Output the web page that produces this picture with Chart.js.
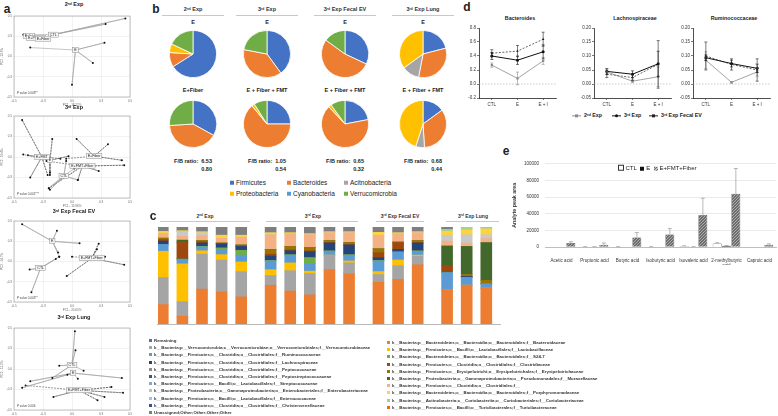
<!DOCTYPE html>
<html>
<head>
<meta charset="utf-8">
<script src="https://cdn.jsdelivr.net/npm/chart.js@4.4.0/dist/chart.umd.min.js"></script>
<style>
body { margin: 0; background: #fff; }
#fig { position: relative; width: 778px; height: 416px; overflow: hidden; font-family: "Liberation Sans", Arial, sans-serif; color: #222; }
.t { position: absolute; white-space: nowrap; line-height: 1; }
.c { transform: translate(-50%, -50%); }
.pl { font-weight: bold; font-size: 12px; }
.hl { position: absolute; height: 0; border-top: 1px solid #c8c8c8; }
sup { font-size: 0.6em; vertical-align: 0.5em; line-height: 0; }
.sq { display: inline-block; width: 4px; height: 4px; margin-right: 2px; vertical-align: 0; }
.lg { position: absolute; white-space: nowrap; font-size: 4.4px; font-weight: bold; line-height: 1; color: #333; }
.lg i { display: inline-block; width: 3px; height: 3px; margin-right: 2px; }
</style>
</head>
<body>
<div id="fig"></div>
<script>
// ---- panel a : PCoA (coordinates) ----
var a1Groups = ["CTL", "E", "E+fat", "E+Protein", "E+Fiber"];
var a1Centers = [[-0.16, 0.27], [0.03, 0.08], [-0.37, 0.25], [-0.31, 0.23], [-0.25, 0.22]];
var a1Points = [
  [[0.46, 0.47], [0.29, 0.40], [-0.40, 0.27]],
  [[0.28, 0.17], [0.18, -0.08], [0.0, -0.35], [-0.36, 0.11]],
  [[-0.42, 0.27], [-0.35, 0.24]],
  [[-0.34, 0.22], [-0.29, 0.21]],
  [[-0.28, 0.23], [-0.21, 0.21]]
];
var a2Groups = ["CTL", "E", "E+FMT", "E+Fiber", "E+FMT+Fiber"];
var a2Centers = [[-0.07, -0.23], [-0.19, -0.04], [-0.26, 0.0], [0.19, 0.01], [0.09, -0.11]];
var a2Points = [
  [[-0.19, -0.40], [-0.20, -0.38], [0.05, -0.28], [-0.05, -0.05], [0.02, -0.14]],
  [[-0.19, -0.22], [-0.19, -0.19], [-0.17, 0.22], [-0.03, 0.01], [-0.42, 0.03]],
  [[-0.43, 0.45], [-0.38, 0.02], [-0.36, -0.25], [-0.21, -0.22], [-0.10, -0.02]],
  [[0.04, 0.22], [0.31, 0.155], [0.43, -0.04], [0.25, 0.0], [-0.05, -0.02]],
  [[0.45, -0.10], [0.23, -0.17], [0.05, -0.28], [-0.20, -0.38], [-0.22, -0.05]]
];
var a3Groups = ["E", "E+FMT+Fiber", "CTL"];
var a3Centers = [[-0.17, 0.25], [0.17, 0.04], [-0.27, -0.08]];
var a3Points = [
  [[-0.43, 0.46], [-0.13, 0.38], [0.065, 0.224], [-0.12, 0.11], [-0.11, 0.06]],
  [[0.23, 0.22], [0.215, 0.15], [0.285, 0.06], [0.45, -0.04], [-0.045, -0.18], [0.0, 0.06]],
  [[-0.365, -0.10], [-0.35, -0.38], [-0.11, 0.06], [-0.14, 0.03]]
];
var a4Groups = ["CTL", "E", "E+FMT+Fiber"];
var a4Centers = [[0.0, 0.05], [0.01, -0.05], [0.06, -0.26]];
var a4Points = [
  [[0.025, 0.46], [0.03, 0.23], [-0.11, 0.04], [-0.17, -0.11], [0.10, -0.02]],
  [[0.43, -0.11], [-0.43, -0.23], [-0.36, -0.15], [-0.04, -0.07], [0.05, -0.12]],
  [[0.34, -0.22], [0.44, -0.29], [0.28, -0.34], [0.22, -0.38], [-0.16, -0.34], [-0.40, -0.20]]
];

// ---- panel b : phylum pies ----
var phyla = ["Firmicutes", "Bacteroides", "Acitnobacteria", "Proteobacteria", "Cyanobacteria", "Verrucomicrobia"];
var phylaColors = ["#4472C4", "#ED7D31", "#A5A5A5", "#FFC000", "#5B9BD5", "#70AD47"];
var pie2E = [66, 10, 0, 6, 0, 18];
var pie2Fiber = [33, 41, 0, 0, 0, 26];
var pie3E = [40, 38, 0, 0, 0, 22];
var pie3Fmt = [25, 64, 0, 2, 0, 9];
var pieEvE = [32, 53, 0, 0, 0, 15];
var pieEvFmt = [22, 66, 0, 2, 0, 10];
var pieLungE = [21, 32, 12, 35, 0, 0];
var pieLungFmt = [15, 34, 6, 45, 0, 0];
var fbTop = ["6.53", "1.05", "0.65", "0.68"];
var fbBottom = ["0.80", "0.54", "0.32", "0.44"];

// ---- panel c : family composition (%) ----
var cSamples = ["CTL", "E", "E+fat", "E+Protein", "E+fiber",
  "CTL", "E", "E+FMT", "E+fiber", "E+FMT+fiber",
  "CTL", "E", "E+FMT+fiber",
  "CTL", "E", "E+FMT+fiber"];
var bacteroidaceae = [20, 8, 36, 33, 28, 40, 34, 30, 56, 52, 43, 46, 61, 35, 40, 37];
var verrucomicrobiaceae = [28, 15, 36, 33, 26, 10, 21, 22, 15, 11, 8, 14, 9, 0, 0, 0];
var lactobacillaceae = [27, 39, 3.5, 5.5, 10, 6, 8, 2.5, 0, 2, 3, 6, 1, 0, 0, 0];
var ruminococcaceae = [7, 4, 4, 5, 7, 9, 8, 8, 4, 6, 11, 8, 4, 18, 8, 4.5];
var s247 = [0, 1, 0.5, 2, 5, 0.5, 0.5, 6, 0.5, 0.5, 0.5, 0.5, 0.5, 0, 0, 0];
var lachnospiraceae = [3.5, 0, 3.5, 4, 4, 4.5, 4, 6, 8, 10, 3, 2.5, 8, 0, 1, 0];
var clostridiaceae = [1.5, 17, 1.5, 0.5, 0.5, 2, 1, 1, 0.5, 0.5, 5, 7, 0.5, 7.5, 0, 0];
var erysipelotrichaceae = [1.5, 0, 1, 0.5, 1, 5, 3.5, 3.5, 2, 2, 4, 0.5, 2, 0, 2, 3.5];
var moraxellaceae = [0, 2.5, 0, 0, 0, 0, 0, 0, 0, 0, 0, 0, 0, 20, 29, 39];
var clostridialesNA = [5, 4, 5, 5, 8, 15, 13, 13, 8, 10, 14, 8.5, 8, 5, 3.5, 4];
var enterobacteriaceae = [0, 5, 3, 0, 0, 0, 0, 0, 0, 0, 0, 0, 0, 6, 8.5, 4];
var porphyromonadaceae = [2, 0.5, 1, 3, 2, 2, 1, 1, 1, 1, 3, 1, 1, 4, 5, 6];
var coriobacteriaceae = [0, 0, 0, 0, 0, 0, 0, 0, 0, 0, 0, 0, 0, 2, 3, 2];
var remaining = [4.5, 4, 5, 8.5, 8.5, 6, 6, 7, 5, 5, 5.5, 6, 5, 2.5, 0, 0];

// ---- panel d : relative abundance ----
var dGroups = ["CTL", "E", "E + I"];
var bact2 = [0.27, 0.08, 0.33], bact2Err = [0.03, 0.09, 0.05];
var bact3 = [0.40, 0.34, 0.46], bact3Err = [0.05, 0.06, 0.10];
var bactEv = [0.44, 0.47, 0.64], bactEvErr = [0.05, 0.08, 0.10];
var lach2 = [0.043, 0.010, 0.026], lach2Err = [0.010, 0.005, 0.035];
var lach3 = [0.045, 0.035, 0.072], lach3Err = [0.010, 0.012, 0.045];
var lachEv = [0.035, 0.023, 0.070], lachEvErr = [0.012, 0.010, 0.085];
var rum2 = [0.085, 0.006, 0.043], rum2Err = [0.030, 0.003, 0.015];
var rum3 = [0.094, 0.073, 0.056], rum3Err = [0.010, 0.012, 0.015];
var rumEv = [0.100, 0.070, 0.050], rumEvErr = [0.050, 0.020, 0.040];

// ---- panel e : SCFA ----
var acids = ["Acetic acid", "Propionic acid", "Butyric acid", "Isobutyric acid", "Isovaleric acid", ["2-methylbutyric", "acid"], "Caproic acid"];
var ctlArea = [0, 400, 400, 400, 1200, 4200, 0];
var eArea = [0, 400, 0, 0, 400, 1500, 0];
var fmtArea = [4800, 2800, 11500, 15000, 38500, 63800, 2800];
var ctlErr = [0, 100, 100, 100, 300, 900, 0];
var eErr = [0, 100, 0, 0, 100, 300, 0];
var fmtErr = [1500, 2000, 5800, 7300, 20000, 30400, 1000];

Chart.defaults.animation = false;
Chart.defaults.font.family = '"Liberation Sans", Arial, sans-serif';
Chart.defaults.color = '#333';
Chart.defaults.plugins.legend.display = false;
Chart.defaults.plugins.tooltip.enabled = false;

var fig = document.getElementById('fig');
function mkCanvas(x, y, w, h) {
  var c = document.createElement('canvas');
  c.width = w; c.height = h;
  c.style.position = 'absolute'; c.style.left = x + 'px'; c.style.top = y + 'px';
  fig.appendChild(c);
  return c;
}
function txt(html, x, y, css, cls) {
  var e = document.createElement('div');
  e.className = 't ' + (cls || 'c');
  e.innerHTML = html;
  e.style.left = x + 'px'; e.style.top = y + 'px';
  if (css) e.style.cssText += ';' + css;
  fig.appendChild(e);
  return e;
}
function hline(x1, x2, y) {
  var e = document.createElement('div');
  e.className = 'hl';
  e.style.left = x1 + 'px'; e.style.top = y + 'px'; e.style.width = (x2 - x1) + 'px';
  fig.appendChild(e);
}

// error bars, used by d and e
var errBars = {
  id: 'errBars',
  afterDatasetsDraw: function (chart) {
    var ys = chart.scales.y, ctx = chart.ctx;
    chart.data.datasets.forEach(function (ds, i) {
      if (!ds.errors) return;
      var meta = chart.getDatasetMeta(i);
      ctx.save();
      ctx.strokeStyle = ds.errColor || ds.borderColor;
      ctx.lineWidth = 0.6;
      meta.data.forEach(function (el, j) {
        var v = ds.data[j], e = ds.errors[j];
        if (v == null || !e) return;
        var top = ys.getPixelForValue(v + e);
        var bot = ds.upOnly ? el.y : ys.getPixelForValue(v - e);
        var x = el.x, cap = ds.capW || 1.5;
        ctx.beginPath();
        ctx.moveTo(x, top); ctx.lineTo(x, bot);
        ctx.moveTo(x - cap, top); ctx.lineTo(x + cap, top);
        if (!ds.upOnly) { ctx.moveTo(x - cap, bot); ctx.lineTo(x + cap, bot); }
        ctx.stroke();
      });
      ctx.restore();
    });
  }
};

// ---------- panel a ----------
function pcoa(y, h, groups, centers, points, dashed, pval, xTitle, yTitle) {
  var ds = [];
  groups.forEach(function (g, i) {
    var star = [];
    points[i].forEach(function (p) {
      star.push({ x: centers[i][0], y: centers[i][1] });
      star.push({ x: p[0], y: p[1] });
    });
    ds.push({
      data: star, showLine: true,
      borderColor: dashed[i] ? '#555' : '#a0a0a0', borderWidth: 0.6,
      borderDash: dashed[i] ? [2, 1] : [],
      pointRadius: function (ctx) { return ctx.dataIndex % 2 ? 1 : 0; },
      pointBackgroundColor: '#111', pointBorderWidth: 0
    });
  });
  var labels = {
    id: 'pcoaLabels',
    afterDatasetsDraw: function (chart) {
      var ctx = chart.ctx, xs = chart.scales.x, ys = chart.scales.y, a = chart.chartArea;
      ctx.save();
      ctx.strokeStyle = '#999'; ctx.lineWidth = 0.6;
      ctx.strokeRect(a.left, a.top, a.right - a.left, a.bottom - a.top);
      ctx.font = '3.6px "Liberation Sans"';
      ctx.textAlign = 'center'; ctx.textBaseline = 'middle';
      groups.forEach(function (g, i) {
        var px = xs.getPixelForValue(centers[i][0]), py = ys.getPixelForValue(centers[i][1]);
        var w = ctx.measureText(g).width + 3;
        ctx.fillStyle = '#f4f4f4'; ctx.fillRect(px - w / 2, py - 2.5, w, 5);
        ctx.strokeStyle = '#777'; ctx.lineWidth = 0.4; ctx.strokeRect(px - w / 2, py - 2.5, w, 5);
        ctx.fillStyle = '#222'; ctx.fillText(g, px, py);
      });
      ctx.textAlign = 'left'; ctx.font = '3px "Liberation Sans"'; ctx.fillStyle = '#444';
      ctx.fillText(pval, a.left + 3, a.bottom - 4);
      ctx.restore();
    }
  };
  var axis = function (title, isX) {
    return {
      type: 'linear', min: -0.5, max: 0.5,
      ticks: { stepSize: 0.25, font: { size: 3 }, padding: 1, color: '#666', callback: function (v) { return v.toFixed(1); } },
      grid: { color: '#e4e4e4', lineWidth: 0.5, tickLength: 1 },
      border: { display: false },
      title: { display: true, text: title, font: { size: 3 }, padding: 0, color: '#666' },
      afterFit: function (s) { if (isX) s.height = 10; else s.width = 14; }
    };
  };
  new Chart(mkCanvas(0, y, 134, h), {
    type: 'scatter',
    data: { datasets: ds },
    options: {
      responsive: false,
      layout: { padding: { top: 1, right: 2 } },
      scales: { x: axis(xTitle, true), y: axis(yTitle, false) }
    },
    plugins: [labels]
  });
}
txt('a', 7, 9, '', 'pl c');
txt('2<sup>nd</sup> Exp', 74, 5, 'font-size:5.5px;font-weight:bold');
pcoa(12, 95, a1Groups, a1Centers, a1Points, [0, 0, 0, 0, 0], 'P value 0.008**', 'PC1 - 18.22%', 'PC2 - 13.6%');
txt('3<sup>rd</sup> Exp', 74, 108, 'font-size:5.5px;font-weight:bold');
pcoa(112, 96, a2Groups, a2Centers, a2Points, [0, 1, 1, 1, 1], 'P value 0.001***', 'PC1 - 15.96%', 'PC2 - 10.4%');
txt('3<sup>rd</sup> Exp Fecal EV', 74, 212, 'font-size:5.5px;font-weight:bold');
pcoa(217, 95, a3Groups, a3Centers, a3Points, [0, 1, 0], 'P value 0.003**', 'PC1 - 20.65%', 'PC2 - 14.7%');
txt('3<sup>rd</sup> Exp Lung', 74, 318, 'font-size:5.5px;font-weight:bold');
pcoa(324, 96, a4Groups, a4Centers, a4Points, [0, 0, 1], 'P value 0.006', 'PC1 - 27.35%', 'PC2 - 11.2%');

// ---------- panel b ----------
txt('b', 156, 9, '', 'pl c');
var pieCols = [193, 267, 345, 423];
var pieTitles = ['2<sup>nd</sup> Exp', '3<sup>rd</sup> Exp', '3<sup>rd</sup> Exp Fecal EV', '3<sup>rd</sup> Exp Lung'];
var pieTop = [pie2E, pie3E, pieEvE, pieLungE];
var pieBot = [pie2Fiber, pie3Fmt, pieEvFmt, pieLungFmt];
var pieBotLabel = ['E+Fiber', 'E + Fiber + FMT', 'E + Fiber + FMT', 'E + Fiber + FMT'];
function pie(cx, cy, values) {
  new Chart(mkCanvas(cx - 25, cy - 25, 50, 50), {
    type: 'pie',
    data: { labels: phyla, datasets: [{ data: values, backgroundColor: phylaColors, borderColor: '#fff', borderWidth: 0.8 }] },
    options: { responsive: false, layout: { padding: 1 } }
  });
}
pieCols.forEach(function (cx, i) {
  txt(pieTitles[i], cx, 10, 'font-size:5.5px;font-weight:bold;color:#333');
  hline(cx - 31, cx + 31, 15);
  txt('E', cx, 23, 'font-size:5.5px;font-weight:bold');
  pie(cx, 54, pieTop[i]);
  txt(pieBotLabel[i], cx, 91, 'font-size:5.5px;font-weight:bold');
  pie(cx, 124, pieBot[i]);
  txt('F/B ratio:&nbsp; ' + fbTop[i], cx + 19, 162, 'font-size:5.5px;font-weight:bold;transform:translate(-100%,-50%)', ' ');
  txt(fbBottom[i], cx + 19, 170, 'font-size:5.5px;font-weight:bold;transform:translate(-100%,-50%)', ' ');
});
var bLegX = [230, 287, 344], bLegY = [183, 194];
phyla.forEach(function (p, i) {
  txt('<span class="sq" style="background:' + phylaColors[i] + '"></span>' + p,
    bLegX[i % 3], bLegY[Math.floor(i / 3)], 'font-size:6.5px;transform:translateY(-50%)', ' ');
});

// ---------- panel c ----------
txt('c', 153, 216, '', 'pl c');
var cHeads = [['2<sup>nd</sup> Exp', 205, 160, 250], ['3<sup>rd</sup> Exp', 313, 266, 358],
  ['3<sup>rd</sup> Exp Fecal EV', 400, 376, 424], ['3<sup>rd</sup> Exp Lung', 473, 446, 499]];
cHeads.forEach(function (h) {
  txt(h[0], h[1], 216, 'font-size:5px;font-weight:bold;color:#333');
  hline(h[2], h[3], 221);
});
var cSeries = [
  ['k__Bacteria;p__Bacteroidetes;c__Bacteroidia;o__Bacteroidales;f__Bacteroidaceae', bacteroidaceae, '#ED7D31'],
  ['k__Bacteria;p__Verrucomicrobia;c__Verrucomicrobiae;o__Verrucomicrobiales;f__Verrucomicrobiaceae', verrucomicrobiaceae, '#A5A5A5'],
  ['k__Bacteria;p__Firmicutes;c__Bacilli;o__Lactobacillales;f__Lactobacillaceae', lactobacillaceae, '#FFC000'],
  ['k__Bacteria;p__Firmicutes;c__Clostridia;o__Clostridiales;f__Ruminococcaceae', ruminococcaceae, '#5B9BD5'],
  ['k__Bacteria;p__Bacteroidetes;c__Bacteroidia;o__Bacteroidales;f__S24-7', s247, '#70AD47'],
  ['k__Bacteria;p__Firmicutes;c__Clostridia;o__Clostridiales;f__Lachnospiraceae', lachnospiraceae, '#264478'],
  ['k__Bacteria;p__Firmicutes;c__Clostridia;o__Clostridiales;f__Clostridiaceae', clostridiaceae, '#9E480E'],
  ['k__Bacteria;p__Firmicutes;c__Erysipelotrichi;o__Erysipelotrichales;f__Erysipelotrichaceae', erysipelotrichaceae, '#997300'],
  ['k__Bacteria;p__Proteobacteria;c__Gammaproteobacteria;o__Pseudomonadales;f__Moraxellaceae', moraxellaceae, '#43682B'],
  ['k__Bacteria;p__Firmicutes;c__Clostridia;o__Clostridiales;f__', clostridialesNA, '#F4B183'],
  ['k__Bacteria;p__Proteobacteria;c__Gammaproteobacteria;o__Enterobacteriales;f__Enterobacteriaceae', enterobacteriaceae, '#C9C9C9'],
  ['k__Bacteria;p__Bacteroidetes;c__Bacteroidia;o__Bacteroidales;f__Porphyromonadaceae', porphyromonadaceae, '#FFD23F'],
  ['k__Bacteria;p__Actinobacteria;c__Coriobacteriia;o__Coriobacteriales;f__Coriobacteriaceae', coriobacteriaceae, '#A9D18E'],
  ['Remaining', remaining, '#7F7F7F']
];
var cSlots = [0, 2, 4, 6, 8, 11, 13, 15, 17, 19, 22, 24, 26, 29, 31, 33];
var nSlots = 35;
var cLabels = [];
for (var s = 0; s < nSlots; s++) cLabels.push('');
cSlots.forEach(function (sl, i) { cLabels[sl] = cSamples[i]; });
new Chart(mkCanvas(156, 227, 345, 108), {
  type: 'bar',
  data: {
    labels: cLabels,
    datasets: cSeries.map(function (sr) {
      var d = [];
      for (var k = 0; k < nSlots; k++) d.push(null);
      cSlots.forEach(function (sl, i) { d[sl] = sr[1][i]; });
      return { label: sr[0], data: d, backgroundColor: sr[2], barThickness: 11, borderWidth: 0 };
    })
  },
  options: {
    responsive: false,
    layout: { padding: 0 },
    scales: {
      x: {
        stacked: true, grid: { display: false }, border: { color: '#bbb' },
        ticks: { autoSkip: false, maxRotation: 0, font: { size: 4 }, padding: 3, color: '#444' },
        afterFit: function (sc) { sc.height = 11; }
      },
      y: { stacked: true, display: false, min: 0, max: 100 }
    }
  }
});
// c legend (two columns, as in the figure)
var cLegLeft = [
  ['Remaining', '#4472C4'],
  ['k__Bacteria;p__Verrucomicrobia;c__Verrucomicrobiae;o__Verrucomicrobiales;f__Verrucomicrobiaceae', '#A5A5A5'],
  ['k__Bacteria;p__Firmicutes;c__Clostridia;o__Clostridiales;f__Ruminococcaceae', '#5B9BD5'],
  ['k__Bacteria;p__Firmicutes;c__Clostridia;o__Clostridiales;f__Lachnospiraceae', '#264478'],
  ['k__Bacteria;p__Firmicutes;c__Clostridia;o__Clostridiales;f__Peptococcaceae', '#8c8c8c'],
  ['k__Bacteria;p__Firmicutes;c__Clostridia;o__Clostridiales;f__Peptostreptococcaceae', '#255E91'],
  ['k__Bacteria;p__Firmicutes;c__Bacilli;o__Lactobacillales;f__Streptococcaceae', '#7FA7D9'],
  ['k__Bacteria;p__Proteobacteria;c__Gammaproteobacteria;o__Enterobacteriales;f__Enterobacteriaceae', '#BFBFBF'],
  ['k__Bacteria;p__Firmicutes;c__Bacilli;o__Lactobacillales;f__Enterococcaceae', '#9DC3E6'],
  ['k__Bacteria;p__Firmicutes;c__Clostridia;o__Clostridiales;f__Christensenellaceae', '#2F5597'],
  ['Unassigned;Other;Other;Other;Other', '#7F7F7F']
];
var cLegRight = [
  ['k__Bacteria;p__Bacteroidetes;c__Bacteroidia;o__Bacteroidales;f__Bacteroidaceae', '#ED7D31'],
  ['k__Bacteria;p__Firmicutes;c__Bacilli;o__Lactobacillales;f__Lactobacillaceae', '#FFC000'],
  ['k__Bacteria;p__Bacteroidetes;c__Bacteroidia;o__Bacteroidales;f__S24-7', '#70AD47'],
  ['k__Bacteria;p__Firmicutes;c__Clostridia;o__Clostridiales;f__Clostridiaceae', '#9E480E'],
  ['k__Bacteria;p__Firmicutes;c__Erysipelotrichi;o__Erysipelotrichales;f__Erysipelotrichaceae', '#997300'],
  ['k__Bacteria;p__Proteobacteria;c__Gammaproteobacteria;o__Pseudomonadales;f__Moraxellaceae', '#43682B'],
  ['k__Bacteria;p__Firmicutes;c__Clostridia;o__Clostridiales;f__', '#F4B183'],
  ['k__Bacteria;p__Bacteroidetes;c__Bacteroidia;o__Bacteroidales;f__Porphyromonadaceae', '#FFD23F'],
  ['k__Bacteria;p__Actinobacteria;c__Coriobacteriia;o__Coriobacteriales;f__Coriobacteriaceae', '#A9D18E'],
  ['k__Bacteria;p__Firmicutes;c__Bacilli;o__Turicibacterales;f__Turicibacteraceae', '#E46C0A']
];
function cLegend(items, x, y0, dy) {
  items.forEach(function (it, i) {
    var e = document.createElement('div');
    e.className = 'lg';
    e.style.left = x + 'px'; e.style.top = (y0 + i * dy) + 'px';
    e.innerHTML = '<i style="background:' + it[1] + '"></i>' + it[0];
    fig.appendChild(e);
  });
}
cLegend(cLegLeft, 149, 339, 7.2);
cLegend(cLegRight, 387, 341, 7.2);

// ---------- panel d ----------
txt('d', 467, 7, '', 'pl c');
var zeroLine = {
  id: 'zeroLine',
  beforeDatasetsDraw: function (chart) {
    var ctx = chart.ctx, a = chart.chartArea, y = chart.scales.y.getPixelForValue(0);
    ctx.save(); ctx.strokeStyle = '#aaa'; ctx.lineWidth = 0.6; ctx.setLineDash([1.5, 1.5]);
    ctx.beginPath(); ctx.moveTo(a.left, y); ctx.lineTo(a.right, y); ctx.stroke(); ctx.restore();
  }
};
function dChart(x, title, s2, e2, s3, e3, sEv, eEv, min, max, step, dec) {
  txt(title, x + 16 + 41, 19, 'font-size:5.3px;font-weight:bold');
  new Chart(mkCanvas(x, 24, 97, 86), {
    type: 'line',
    data: {
      labels: dGroups,
      datasets: [
        { data: s2, errors: e2, borderColor: '#8c8c8c', backgroundColor: '#8c8c8c', borderWidth: 0.8, pointStyle: 'rect', pointRadius: 1.6, pointBorderWidth: 0 },
        { data: s3, errors: e3, borderColor: '#111', backgroundColor: '#111', borderWidth: 1, pointStyle: 'circle', pointRadius: 1.5, pointBorderWidth: 0 },
        { data: sEv, errors: eEv, borderColor: '#222', backgroundColor: '#222', borderWidth: 0.7, borderDash: [2, 1.5], pointStyle: 'triangle', pointRadius: 1.4, pointBorderWidth: 0 }
      ]
    },
    options: {
      responsive: false,
      layout: { padding: { top: 4, right: 0 } },
      scales: {
        x: {
          offset: true, grid: { display: true, drawOnChartArea: false, tickLength: 2, color: '#222', lineWidth: 0.6 },
          border: { color: '#222', width: 0.8 },
          ticks: { font: { size: 4.5 }, padding: 2, color: '#333' },
          afterFit: function (sc) { sc.height = 12; }
        },
        y: {
          min: min, max: max,
          grid: { display: true, drawOnChartArea: false, tickLength: 2, color: '#222', lineWidth: 0.6 },
          border: { color: '#222', width: 0.8 },
          ticks: { stepSize: step, font: { size: 4.5 }, padding: 1, color: '#333', callback: function (v) { return v.toFixed(dec); } },
          afterFit: function (sc) { sc.width = 16; }
        }
      }
    },
    plugins: [zeroLine, errBars]
  });
}
dChart(463, 'Bacteroides', bact2, bact2Err, bact3, bact3Err, bactEv, bactEvErr, -0.2, 0.8, 0.2, 1);
dChart(578, 'Lachnospiraceae', lach2, lach2Err, lach3, lach3Err, lachEv, lachEvErr, -0.05, 0.2, 0.05, 2);
dChart(677, 'Ruminococcaceae', rum2, rum2Err, rum3, rum3Err, rumEv, rumEvErr, -0.05, 0.2, 0.05, 2);
var dLeg = [['2<sup>nd</sup> Exp', 577, '#8c8c8c', '0'], ['3<sup>rd</sup> Exp', 617, '#111', '50%'], ['3<sup>rd</sup> Exp Fecal EV', 654, '#222', '0']];
dLeg.forEach(function (l, i) {
  var line = i === 2 ? 'border-top:0.8px dashed ' + l[2] : 'border-top:0.8px solid ' + l[2];
  txt('<span style="display:inline-block;width:9px;height:0;' + line + ';position:relative;vertical-align:middle;margin-right:3px">' +
    '<span style="position:absolute;left:3px;top:-2px;width:3px;height:3px;background:' + l[2] + ';border-radius:' + l[3] + '"></span></span>' + l[0],
    l[1] - 5, 116, 'font-size:5.3px;font-weight:bold;transform:translateY(-50%)', ' ');
});

// ---------- panel e ----------
txt('e', 506, 151, '', 'pl c');
function hatch() {
  var p = document.createElement('canvas'); p.width = 3; p.height = 3;
  var g = p.getContext('2d');
  g.fillStyle = '#6e6e6e'; g.fillRect(0, 0, 3, 3);
  g.strokeStyle = '#bdbdbd'; g.lineWidth = 0.8;
  g.beginPath(); g.moveTo(0, 3); g.lineTo(3, 0); g.stroke();
  return g.createPattern(p, 'repeat');
}
var hatchFill = hatch();
new Chart(mkCanvas(505, 155, 273, 110), {
  type: 'bar',
  data: {
    labels: acids,
    datasets: [
      { label: 'CTL', data: ctlArea, errors: ctlErr, upOnly: true, errColor: '#888', capW: 2, backgroundColor: '#fff', borderColor: '#333', borderWidth: 0.6 },
      { label: 'E', data: eArea, errors: eErr, upOnly: true, errColor: '#888', capW: 2, backgroundColor: '#111', borderColor: '#111', borderWidth: 0.6 },
      { label: 'E+FMT+Fiber', data: fmtArea, errors: fmtErr, upOnly: true, errColor: '#888', capW: 2, backgroundColor: hatchFill, borderColor: '#333', borderWidth: 0.6 }
    ]
  },
  options: {
    responsive: false,
    layout: { padding: { top: 5, right: 2, left: 6 } },
    datasets: { bar: { categoryPercentage: 0.85, barPercentage: 0.95 } },
    scales: {
      x: {
        grid: { display: false }, border: { color: '#bfbfbf' },
        ticks: { autoSkip: false, maxRotation: 0, font: { size: 4.5 }, padding: 3, color: '#333' },
        afterFit: function (sc) { sc.height = 18; }
      },
      y: {
        min: 0, max: 100000,
        grid: { color: '#dcdcdc', lineWidth: 0.6, drawTicks: false },
        border: { display: false },
        ticks: { stepSize: 20000, font: { size: 4.5 }, padding: 6, color: '#333', callback: function (v) { return v; } },
        title: { display: true, text: 'Analyte peak area', font: { size: 5.3, weight: 'bold' }, padding: 0, color: '#333' },
        afterFit: function (sc) { sc.width = 34; }
      }
    }
  },
  plugins: [errBars]
});
txt('<span class="sq" style="background:#fff;border:0.6px solid #333;width:3.5px;height:3.5px"></span>CTL&nbsp; ' +
  '<span class="sq" style="background:#111"></span>E&nbsp; ' +
  '<span class="sq" style="background:repeating-linear-gradient(135deg,#6e6e6e 0 1px,#bdbdbd 1px 2px)"></span>E+FMT+Fiber',
  618, 168, 'font-size:6px;transform:translateY(-50%)', ' ');
</script>
</body>
</html>
